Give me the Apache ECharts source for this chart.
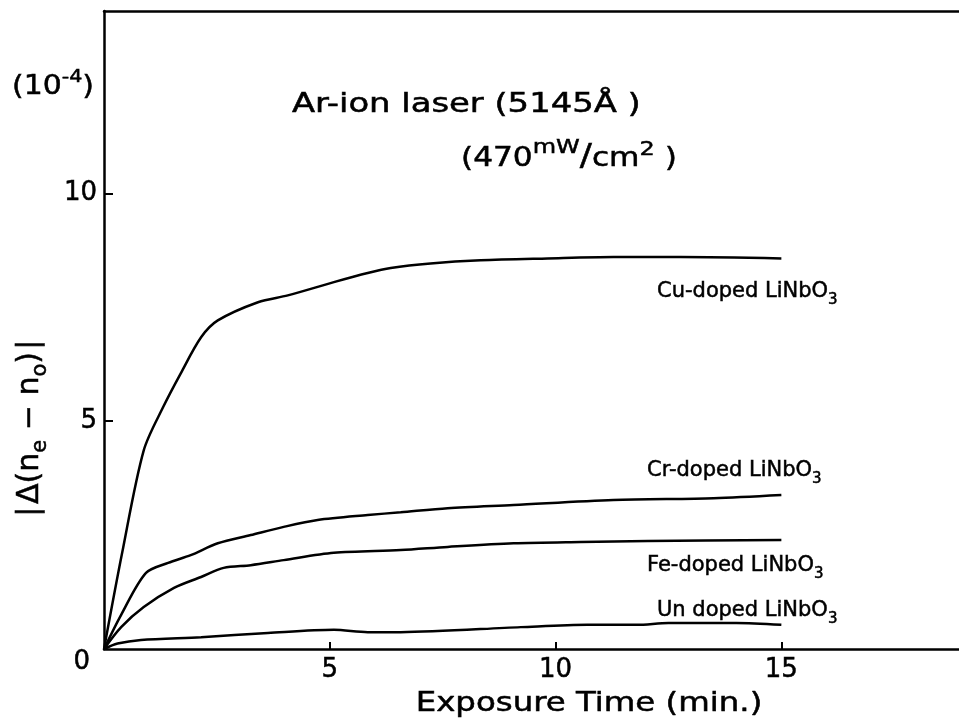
<!DOCTYPE html>
<html>
<head>
<meta charset="utf-8">
<script src="https://cdn.jsdelivr.net/npm/echarts@6/dist/echarts.min.js"></script>
<style>
  html, body { margin: 0; padding: 0; background: #fff; }
  #chart { width: 959px; height: 725px; }
</style>
</head>
<body>
<div id="chart"></div>
<script>
// Photo-induced birefringence change |Δ(ne − no)| (units of 1e-4) versus exposure time (min)
const FONT = '"DejaVu Sans", "Liberation Sans", sans-serif';

const xTickValues = [5, 10, 15];
const yTickValues = [5, 10];
const yLabelValues = [0, 5, 10];

const cuTime  = [0, 0.4, 0.88, 1.31, 1.70, 2.15, 2.52, 3.41, 4.07, 5.09, 5.84, 6.35, 7.23, 8.34, 9.82, 11.28, 12.77, 15.0];
const cuDelta = [0, 2.1, 4.36, 5.31, 6.05, 6.84, 7.21, 7.61, 7.76, 8.05, 8.25, 8.36, 8.46, 8.53, 8.57, 8.60, 8.60, 8.57];

const crTime  = [0, 0.38, 0.93, 1.42, 1.92, 2.52, 3.25, 3.98, 4.73, 5.84, 6.57, 7.61, 9.07, 11.28, 13.5, 15.0];
const crDelta = [0, 0.75, 1.67, 1.89, 2.06, 2.32, 2.50, 2.68, 2.83, 2.94, 3.00, 3.09, 3.16, 3.27, 3.31, 3.38];

const feTime  = [0, 0.38, 0.88, 1.55, 2.15, 2.65, 3.25, 3.98, 5.09, 6.57, 7.61, 9.07, 10.55, 12.04, 15.0];
const feDelta = [0, 0.48, 0.92, 1.34, 1.58, 1.78, 1.84, 1.95, 2.11, 2.17, 2.24, 2.32, 2.35, 2.37, 2.39];

const unTime  = [0, 0.3, 0.82, 2.15, 3.63, 5.09, 5.84, 6.57, 9.23, 10.7, 11.8, 12.5, 14.0, 15.0];
const unDelta = [0, 0.12, 0.20, 0.26, 0.35, 0.42, 0.37, 0.37, 0.48, 0.53, 0.53, 0.57, 0.57, 0.53];

const crystalNames = ['Cu-doped', 'Cr-doped', 'Fe-doped', 'Un doped'];

// slight outline so the lettering reads as heavy as pen-drawn text
const INK = { fill: '#000', stroke: '#000', lineWidth: 0.5 };

function pairs(xs, ys) { return xs.map((x, i) => [x, ys[i]]); }

function curve(name, xs, ys) {
  return {
    name: name,
    type: 'line',
    xAxisIndex: 0,
    yAxisIndex: 0,
    data: pairs(xs, ys),
    smooth: 0.3,
    showSymbol: false,
    lineStyle: { color: '#000', width: 2.5 },
    silent: true
  };
}

function ink(style) { return Object.assign({}, INK, style); }

// sample label: "<dopant> LiNbO" with subscript 3
function crystalLabel(name, left, centerY) {
  return {
    type: 'text',
    x: left,
    y: centerY - 8,
    style: ink({
      text: '{m|' + name + ' LiNbO}{s|3}',
      rich: {
        m: ink({ fontFamily: FONT, fontSize: 21, lineHeight: 24, padding: [0, 0, 6, 0], verticalAlign: 'bottom' }),
        s: ink({ fontFamily: FONT, fontSize: 15, lineHeight: 16, verticalAlign: 'bottom' })
      }
    })
  };
}

const axisStroke = { color: '#000', width: 2.5 };
const tickFont = { color: '#000', fontFamily: FONT, fontSize: 26, textBorderColor: '#000', textBorderWidth: 0.5 };

const chart = echarts.init(document.getElementById('chart'), null, { renderer: 'canvas' });

chart.setOption({
  backgroundColor: '#fff',
  animation: false,
  grid: {
    left: 104, top: 11, width: 858, bottom: 76,
    outerBoundsMode: 'none',
    containLabel: false,
    show: false
  },
  xAxis: [
    {
      type: 'value', min: 0, max: 19, interval: 5, position: 'bottom',
      axisLine: { show: true, onZero: false, lineStyle: axisStroke },
      axisTick: { show: true, inside: true, length: 7, customValues: xTickValues, lineStyle: { color: '#000', width: 2 } },
      axisLabel: Object.assign({ show: true, customValues: xTickValues, margin: 8 }, tickFont),
      splitLine: { show: false }
    },
    {
      // upper frame line
      type: 'value', min: 0, max: 19, position: 'top',
      axisLine: { show: true, onZero: false, lineStyle: axisStroke },
      axisTick: { show: false },
      axisLabel: { show: false },
      splitLine: { show: false }
    }
  ],
  yAxis: {
    type: 'value', min: 0, max: 14, interval: 5,
    axisLine: { show: true, onZero: false, lineStyle: axisStroke },
    axisTick: { show: true, inside: true, length: 9, customValues: yTickValues, lineStyle: { color: '#000', width: 2 } },
    axisLabel: Object.assign({
      show: true, customValues: yLabelValues, margin: 7,
      formatter: v => v === 0 ? '{o|0}' : String(v),
      rich: { o: Object.assign({ padding: [26, 7, 0, 0] }, tickFont) }
    }, tickFont),
    splitLine: { show: false }
  },
  series: [
    curve(crystalNames[0], cuTime, cuDelta),
    curve(crystalNames[1], crTime, crDelta),
    curve(crystalNames[2], feTime, feDelta),
    curve(crystalNames[3], unTime, unDelta)
  ],
  graphic: [
    // unit of the vertical axis
    {
      type: 'text', x: 12, y: 70, scaleX: 1.15,
      style: ink({
        text: '{p|(10}{s|-4}{p|)}',
        rich: {
          p: ink({ fontFamily: FONT, fontSize: 26, lineHeight: 30, verticalAlign: 'bottom' }),
          s: ink({ fontFamily: FONT, fontSize: 18, lineHeight: 20, padding: [0, 0, 14, 0], verticalAlign: 'bottom' })
        }
      })
    },
    // laser description
    {
      type: 'text', x: 292, y: 92, scaleX: 1.3,
      style: ink({ text: 'Ar-ion laser (5145Å )', fontFamily: FONT, fontSize: 26 })
    },
    {
      type: 'text', x: 461, y: 138, scaleX: 1.2,
      style: ink({
        text: '{b|(470}{u|mW}{l|/}{b|cm}{t|2}{b| )}',
        rich: {
          b: ink({ fontFamily: FONT, fontSize: 26, lineHeight: 30, verticalAlign: 'bottom' }),
          u: ink({ fontFamily: FONT, fontSize: 20, lineHeight: 22, padding: [0, 0, 14, 0], verticalAlign: 'bottom' }),
          l: ink({ fontFamily: FONT, fontSize: 30, lineHeight: 34, verticalAlign: 'bottom' }),
          t: ink({ fontFamily: FONT, fontSize: 20, lineHeight: 22, padding: [0, 0, 12, 0], verticalAlign: 'bottom' })
        }
      })
    },
    // vertical axis title
    {
      type: 'text', x: 34, y: 428, rotation: Math.PI / 2,
      style: ink({
        text: '{b|∣Δ(n}{s|e}{b| − n}{s|o}{b|)∣}',
        align: 'center', verticalAlign: 'middle',
        rich: {
          b: ink({ fontFamily: FONT, fontSize: 30, lineHeight: 34, padding: [0, 0, 6, 0], verticalAlign: 'bottom' }),
          s: ink({ fontFamily: FONT, fontSize: 21, lineHeight: 24, verticalAlign: 'bottom' })
        }
      })
    },
    // horizontal axis title
    {
      type: 'text', x: 589, y: 704, scaleX: 1.2,
      style: ink({ text: 'Exposure Time (min.)', fontFamily: FONT, fontSize: 27, align: 'center', verticalAlign: 'middle' })
    },
    crystalLabel(crystalNames[0], 657, 292),
    crystalLabel(crystalNames[1], 647, 471),
    crystalLabel(crystalNames[2], 647, 566),
    crystalLabel(crystalNames[3], 657, 611)
  ]
});
</script>
</body>
</html>
